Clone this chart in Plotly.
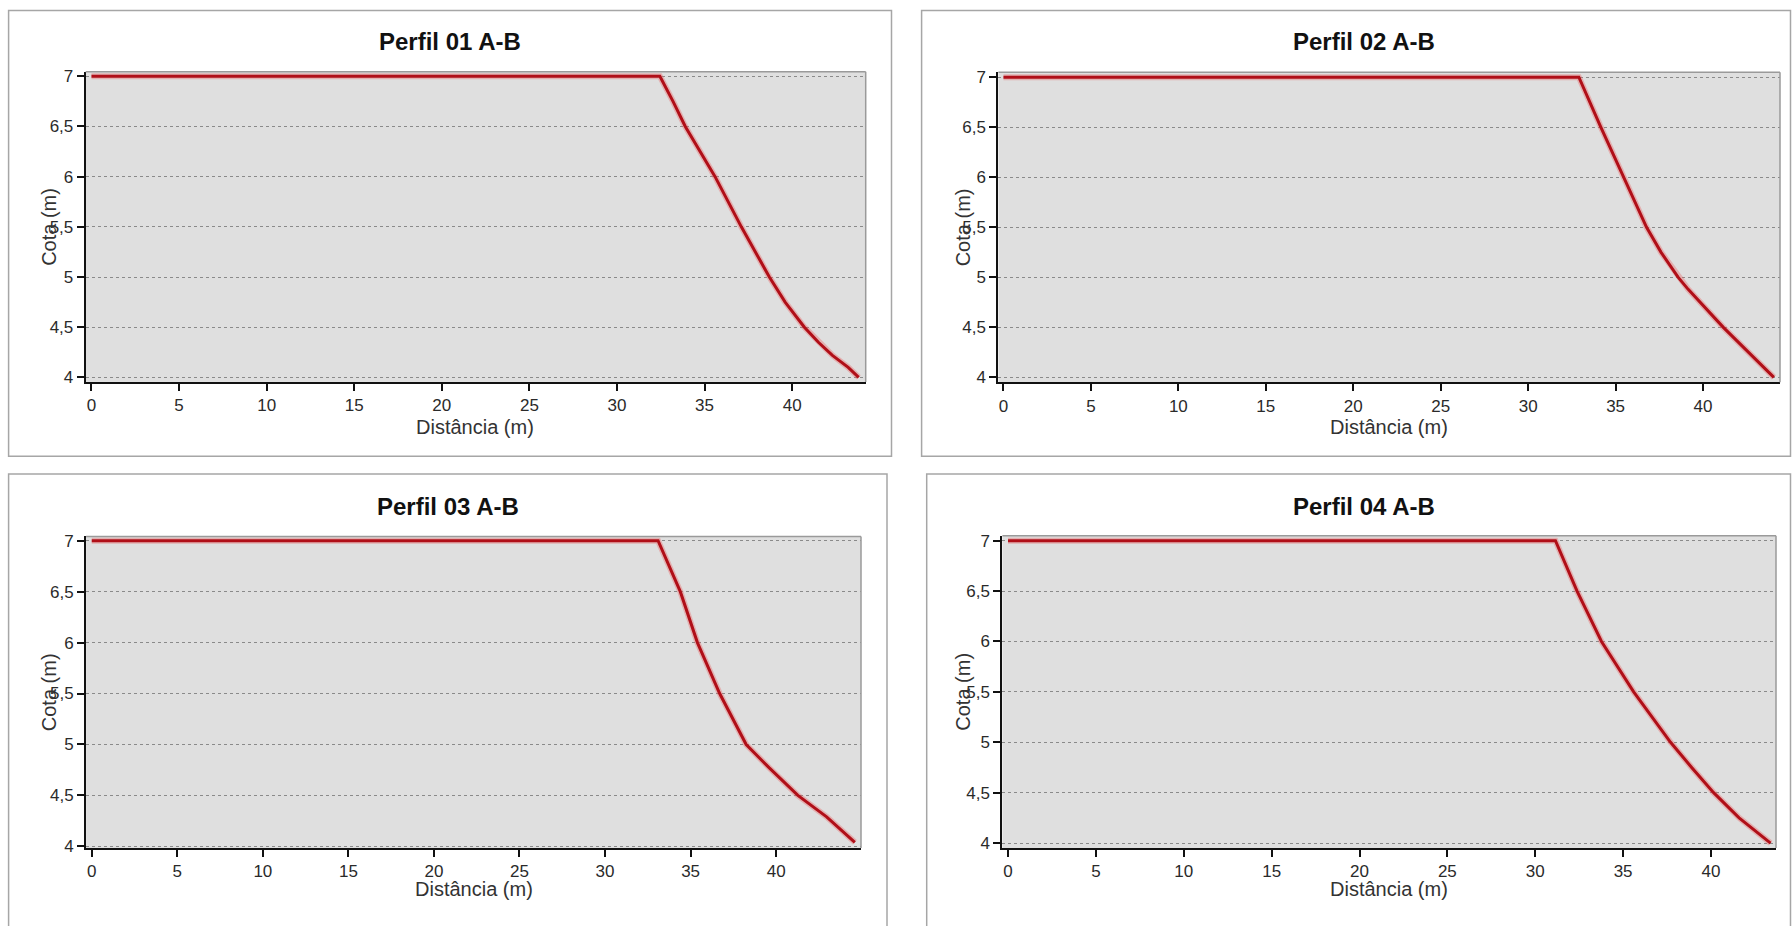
import plotly.graph_objects as go

# profile data (distance in m, elevation in m)
titles = ["Perfil 01 A-B", "Perfil 02 A-B", "Perfil 03 A-B", "Perfil 04 A-B"]

dist_01 = [0, 32.45, 33.2, 33.9, 35.6, 37.1, 38.7, 39.6, 40.7, 41.5, 42.3, 43.2, 43.8]
cota_01 = [7.0, 7.0, 6.75, 6.5, 6.0, 5.5, 5.0, 4.75, 4.5, 4.35, 4.22, 4.1, 4.0]

dist_02 = [0, 32.9, 34.16, 35.47, 36.77, 37.6, 38.58, 39.15, 41.16, 44.05]
cota_02 = [7.0, 7.0, 6.5, 6.0, 5.5, 5.25, 5.0, 4.88, 4.5, 4.0]

dist_03 = [0, 33.1, 34.4, 35.4, 36.7, 38.25, 39.6, 41.27, 42.95, 44.6]
cota_03 = [7.0, 7.0, 6.5, 6.0, 5.5, 5.0, 4.77, 4.5, 4.29, 4.04]

dist_04 = [0, 31.15, 32.38, 33.77, 35.6, 37.7, 38.9, 40.15, 41.6, 43.39]
cota_04 = [7.0, 7.0, 6.5, 6.0, 5.5, 5.0, 4.75, 4.5, 4.25, 4.0]

x_ticks = [0, 5, 10, 15, 20, 25, 30, 35, 40]
y_ticks = [4, 4.5, 5, 5.5, 6, 6.5, 7]

profiles = [(dist_01, cota_01), (dist_02, cota_02), (dist_03, cota_03), (dist_04, cota_04)]

W, H = 1792, 926
FONT = "Liberation Sans, Arial, sans-serif"

# layout of each panel in pixels: plot area, axis ranges, panel frame, text spots
panels = [
    dict(plot=(85.7, 67.7, 865.7, 382.3), xr=(-0.33, 44.2), yr=(3.955, 7.045),
         frame=(8.6, 5.7, 891.5, 457.7), title=(450, 37.5), xlab=(475, 428), ylab=(49, 225)),
    dict(plot=(998.4, 68.3, 1780, 382.7), xr=(-0.29, 44.4), yr=(3.951, 7.049),
         frame=(921.6, 5.7, 1790.5, 457.7), title=(1364, 37.5), xlab=(1389, 428), ylab=(963, 225.5)),
    dict(plot=(86.1, 539, 861, 855), xr=(-0.33, 44.96), yr=(3.984, 7.042),
         frame=(8.6, 475.7, 887, 940), title=(448, 508.5), xlab=(473.5, 897), ylab=(49, 697)),
    dict(plot=(1002.4, 538.3, 1776, 855), xr=(-0.32, 43.7), yr=(3.951, 7.049),
         frame=(926.7, 475.7, 1790.5, 940), title=(1364, 508.5), xlab=(1389, 897), ylab=(963.5, 697)),
]


def px(x):
    return x / W


def py(y):
    return 1 - y / H


fig = go.Figure()
shapes = []
annotations = []

for i, ((dist, cota), p) in enumerate(zip(profiles, panels), start=1):
    sfx = "" if i == 1 else str(i)
    xa, ya = "x" + sfx, "y" + sfx

    # soft halo under the line, then the line itself
    fig.add_trace(go.Scatter(x=dist, y=cota, mode="lines", xaxis=xa, yaxis=ya,
                             line=dict(color="rgba(235,90,90,0.35)", width=6),
                             hoverinfo="skip", showlegend=False))
    fig.add_trace(go.Scatter(x=dist, y=cota, mode="lines", xaxis=xa, yaxis=ya,
                             line=dict(color="#b00f18", width=3),
                             name=titles[i - 1], showlegend=False))

    l, t, r, b = p["plot"]
    axis_common = dict(showline=True, linecolor="#111111", linewidth=2,
                       ticks="outside", ticklen=7, tickwidth=1.5, tickcolor="#111111",
                       tickfont=dict(family=FONT, size=17, color="#2a2a2a"),
                       zeroline=False, fixedrange=True)
    fig.layout["xaxis" + sfx] = dict(
        axis_common, domain=[px(l), px(r)], range=list(p["xr"]), anchor=ya,
        tickvals=x_ticks, showgrid=False)
    fig.layout["yaxis" + sfx] = dict(
        axis_common, domain=[py(b), py(t)], range=list(p["yr"]), anchor=xa,
        tickvals=y_ticks, showgrid=True, gridcolor="#8a8a8a", griddash="dot", gridwidth=1)

    # gray top/right edges of the plot area
    shapes.append(dict(type="line", xref=xa + " domain", yref=ya + " domain",
                       x0=0, x1=1, y0=1, y1=1, line=dict(color="#9a9a9a", width=1.5)))
    shapes.append(dict(type="line", xref=xa + " domain", yref=ya + " domain",
                       x0=1, x1=1, y0=0, y1=1, line=dict(color="#9a9a9a", width=1.5)))

    # panel frame
    fl, ft, fr, fb = p["frame"]
    shapes.append(dict(type="rect", xref="paper", yref="paper",
                       x0=px(fl), x1=px(fr), y0=py(fb), y1=py(ft),
                       line=dict(color="#a6a6a6", width=1.5), layer="below"))

    annotations.append(dict(text=titles[i - 1], xref="paper", yref="paper",
                            x=px(p["title"][0]), y=py(p["title"][1]),
                            xanchor="center", yanchor="middle", showarrow=False,
                            font=dict(family=FONT, size=24, color="#111111", weight="bold")))
    annotations.append(dict(text="Distância (m)", xref="paper", yref="paper",
                            x=px(p["xlab"][0]), y=py(p["xlab"][1]),
                            xanchor="center", yanchor="middle", showarrow=False,
                            font=dict(family=FONT, size=20, color="#333333")))
    annotations.append(dict(text="Cota (m)", xref="paper", yref="paper", textangle=-90,
                            x=px(p["ylab"][0]), y=py(p["ylab"][1]),
                            xanchor="center", yanchor="middle", showarrow=False,
                            font=dict(family=FONT, size=20, color="#333333")))

fig.update_layout(
    width=W, height=H,
    margin=dict(l=0, r=0, t=0, b=0),
    paper_bgcolor="white",
    plot_bgcolor="#dfdfdf",
    separators=", ",
    shapes=shapes,
    annotations=annotations,
    font=dict(family=FONT),
)

# drop the default 8px page margin so the figure fills the window exactly
fig.write_html("out.html", config={"displayModeBar": False},
               post_script="document.body.style.margin = '0';")
